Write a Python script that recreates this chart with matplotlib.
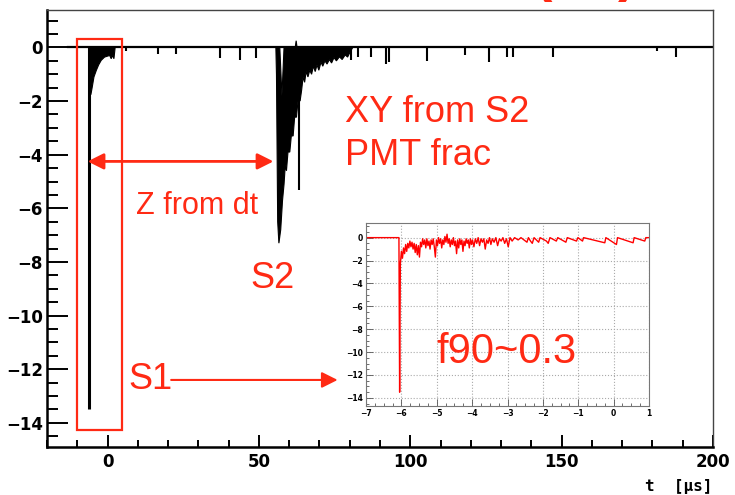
import numpy as np
import matplotlib
matplotlib.use("Agg")
import matplotlib.pyplot as plt
from matplotlib.patches import Rectangle
from matplotlib.ticker import MultipleLocator

plt.rcParams['font.family'] = ['Liberation Sans', 'DejaVu Sans']

RED = '#ff2a14'

# ---- main waveform (t in us) ----
base_t = [-13, 200]
base_v = [0, 0]

s1_t = -6.0
s1_peak = -13.5

s1_tail_t = [-6.2, -5.5, -5.1, -4.5, -3.7, -2.95, -2.1, -1.0, 0.1, 0.7, 1.2, 1.6, 2.1, 2.5]
s1_tail_v = [-1.8, -1.75, -1.5, -1.1, -0.85, -0.65, -0.48, -0.36, -0.32, -0.3, -0.42, -0.3, -0.42, 0.0]

# S2 lower / upper envelope of the filled pulse train
s2_low_t = [55.6, 55.8, 56.2, 56.6, 57.2, 57.8, 58.3, 58.7, 59.1, 59.6, 60.2, 60.7, 61.3,
            61.8, 62.4, 63.0, 63.6, 64.1, 64.6, 65.1, 65.6, 66.2, 66.8, 67.4, 68.0, 68.6,
            69.2, 69.8, 70.5, 71.1, 71.8, 72.5, 73.3, 74.0, 74.8, 75.6, 76.6, 77.5, 78.5,
            79.3, 80.0, 81.0]
s2_low_v = [0.0, -1.0, -6.5, -7.3, -6.8, -5.7, -5.1, -4.4, -4.6, -3.9, -3.9, -3.3, -3.3,
            -2.6, -2.6, -1.9, -2.0, -1.6, -1.1, -1.3, -0.9, -1.1, -0.85, -1.0, -0.7, -0.9,
            -0.65, -0.85, -0.55, -0.7, -0.5, -0.62, -0.45, -0.58, -0.38, -0.5, -0.35, -0.45,
            -0.28, -0.36, -0.2, 0.0]
s2_up_t = [55.6, 56.9, 57.6, 58.3, 62.0, 62.3, 62.6, 81.0]
s2_up_v = [0.0, 0.0, -1.8, 0.0, 0.0, 0.25, 0.0, 0.0]

# isolated single photo-electron pulses
pulse_t = [6.1, 16.8, 22.6, 37.0, 43.6, 49.2, 63.4, 80.3, 82.6, 86.9, 92.0, 93.0, 105.6,
           118.0, 125.9, 131.8, 134.0, 147.0, 181.6, 187.9]
pulse_v = [-0.15, -0.25, -0.25, -0.4, -0.46, -0.4, -5.3, -0.47, -0.35, -0.35, -0.62, -0.55,
           -0.5, -0.28, -0.56, -0.37, -0.37, -0.37, -0.15, -0.37]

x_ticks = [0, 50, 100, 150, 200]
y_ticks = [-14, -12, -10, -8, -6, -4, -2, 0]

# ---- inset: zoom on S1 ----
inset_t = [-7.0, -6.07, -6.05, -6.03, -6.00, -5.97, -5.94, -5.91, -5.88, -5.85, -5.82, -5.79,
           -5.76, -5.73, -5.70, -5.67, -5.64, -5.61, -5.58, -5.55, -5.52, -5.49, -5.46, -5.43,
           -5.40, -5.37, -5.34, -5.31, -5.28, -5.25, -5.22, -5.19, -5.16, -5.13, -5.10, -5.07,
           -5.04, -5.01, -4.98, -4.95, -4.92, -4.89, -4.86, -4.83, -4.80, -4.77, -4.74, -4.71,
           -4.68, -4.65, -4.62, -4.59, -4.56, -4.53, -4.50, -4.47, -4.44, -4.41, -4.38, -4.35,
           -4.32, -4.29, -4.26, -4.23, -4.20, -4.17, -4.14, -4.11, -4.08, -4.05, -4.02, -3.99,
           -3.95, -3.91, -3.87, -3.83, -3.79, -3.75, -3.71, -3.67, -3.63, -3.59, -3.55, -3.51,
           -3.47, -3.43, -3.38, -3.33, -3.28, -3.23, -3.18, -3.13, -3.08, -3.03, -2.98, -2.93,
           -2.87, -2.80, -2.70, -2.62, -2.45, -2.41, -2.35, -2.30, -2.25, -2.12, -2.08, -1.90,
           -1.85, -1.80, -1.62, -1.58, -1.35, -1.31, -1.05, -1.01, -0.88, -0.85, -0.25, -0.22,
           0.08, 0.11, 0.55, 0.58, 0.88, 0.91, 1.0]
inset_v = [0.0, 0.0, -13.5, -2.3, -1.2, -1.8, -0.9, -1.4, -0.6, -1.2, -0.5, -0.9,
           -0.3, -0.8, -0.4, -1.0, -0.5, -1.3, -0.6, -1.5, -0.7, -1.7, -0.4, -0.8,
           -0.1, -0.6, -0.2, -0.9, -0.1, -0.7, -0.3, -1.0, -0.2, -0.6, -0.1, -0.8,
           -1.7, -0.2, -0.7, 0.0, -0.5, -0.1, -0.9, -0.2, -0.6, 0.1, -0.4, 0.3,
           -0.5, -0.1, -0.8, -0.2, -0.6, 0.0, -0.7, -0.3, -1.4, -0.2, -0.9, -0.1,
           -0.6, -0.2, -1.2, -0.3, -0.7, -0.1, -0.5, -0.2, -0.9, -0.1, -0.6, -0.2,
           -0.8, -0.1, -0.5, 0.0, -0.7, -0.1, -0.4, -0.1, -1.0, -0.2, -0.5, 0.0,
           -0.6, -0.1, -0.4, 0.0, -0.7, -0.1, -0.3, 0.0, -0.5, -0.1, -0.8, 0.0,
           -0.3, 0.0, -0.2, 0.0, -0.4, 0.0, -0.3, -0.5, 0.0, -0.4, 0.0, -0.3,
           -0.5, 0.0, -0.3, 0.0, -0.4, 0.0, -0.3, 0.0, -0.3, 0.0, -0.45, 0.0,
           -0.6, 0.0, -0.45, 0.0, -0.3, 0.0, 0.0]
inset_x_ticks = [-7, -6, -5, -4, -3, -2, -1, 0, 1]
inset_y_ticks = [-14, -12, -10, -8, -6, -4, -2, 0]


def fmt(v):
    return str(v).replace('-', '\u2212')


fig = plt.figure(figsize=(7.35, 4.95), dpi=100)
ax = fig.add_axes([0.064, 0.097, 0.906, 0.883])

ax.plot(base_t, base_v, color='black', lw=1.6)
ax.vlines(s1_t, s1_peak, 0, color='black', lw=2.2)
ax.fill(np.r_[s1_tail_t[0], s1_tail_t], np.r_[0.0, s1_tail_v], color='black', lw=0.8)
ax.fill(np.r_[s2_low_t, s2_up_t[::-1]], np.r_[s2_low_v, s2_up_v[::-1]],
        facecolor='black', edgecolor='black', lw=0.8)
ax.vlines(pulse_t, pulse_v, 0, color='black', lw=1.5)

ax.set_xlim(-20, 200)
ax.set_ylim(-14.9, 1.4)
ax.set_xticks(x_ticks)
ax.set_xticklabels([fmt(v) for v in x_ticks], fontsize=12, fontweight='bold', family='DejaVu Sans')
ax.set_yticks(y_ticks)
ax.set_yticklabels([fmt(v) for v in y_ticks], fontsize=12, fontweight='bold', family='DejaVu Sans')
ax.xaxis.set_minor_locator(MultipleLocator(10))
ax.yaxis.set_minor_locator(MultipleLocator(0.5))
ax.tick_params(which='both', direction='in', top=False, right=False, width=1.4)
ax.tick_params(axis='y', which='major', length=15, pad=3)
ax.tick_params(axis='y', which='minor', length=8)
ax.tick_params(axis='x', which='major', length=8.6, pad=4.5)
ax.tick_params(axis='x', which='minor', length=5)
for side in ['left', 'bottom']:
    ax.spines[side].set_linewidth(1.8)
for side in ['top', 'right']:
    ax.spines[side].set_linewidth(1.0)
    ax.spines[side].set_color('#444444')

fig.text(0.969, 1 - 486 / 495, 't  [\u03bcs]', family='DejaVu Sans Mono', fontweight='bold',
         fontsize=11.5, ha='right', va='center')

# annotations
ax.add_patch(Rectangle((-10, -14.26), 14.6, 14.59, fill=False, edgecolor=RED, lw=1.6,
                       clip_on=False, zorder=5))
ax.annotate('', xy=(54.8, -4.25), xytext=(-6.6, -4.25),
            arrowprops=dict(arrowstyle='<|-|>', color=RED, lw=2, mutation_scale=24,
                            shrinkA=0, shrinkB=0))
ax.text(29.5, -5.9, 'Z from dt', color=RED, fontsize=22, ha='center', va='center')
ax.text(78.3, -2.79, 'XY from S2', color=RED, fontsize=26, ha='left', va='baseline')
ax.text(78.3, -4.39, 'PMT frac', color=RED, fontsize=26, ha='left', va='baseline')
ax.text(54.4, -8.6, 'S2', color=RED, fontsize=26, ha='center', va='center')
ax.text(14.1, -12.4, 'S1', color=RED, fontsize=26, ha='center', va='center')
ax.annotate('', xy=(76, -12.4), xytext=(21, -12.4),
            arrowprops=dict(arrowstyle='-|>', color=RED, lw=1.5, mutation_scale=24,
                            shrinkA=0, shrinkB=0))

fig.text(543 / 735, 1.02, '(', color=RED, fontsize=40, fontweight='bold', ha='center', va='baseline')
fig.text(627 / 735, 1.02, ')', color=RED, fontsize=40, fontweight='bold', ha='center', va='baseline')

# inset
axin = fig.add_axes([0.498, 0.180, 0.385, 0.370])
axin.plot(inset_t, inset_v, color='red', lw=1.0)
axin.set_xlim(-7, 1)
axin.set_ylim(-14.7, 1.3)
axin.set_xticks(inset_x_ticks)
axin.set_xticklabels([fmt(v) for v in inset_x_ticks], fontsize=5.5, fontweight='bold', family='DejaVu Sans')
axin.set_yticks(inset_y_ticks)
axin.set_yticklabels([fmt(v) for v in inset_y_ticks], fontsize=5.5, fontweight='bold', family='DejaVu Sans')
axin.yaxis.set_minor_locator(MultipleLocator(0.5))
axin.xaxis.set_minor_locator(MultipleLocator(0.25))
axin.tick_params(which='both', direction='in', top=False, right=False, width=0.6,
                 colors='#555555', labelcolor='black', pad=2)
axin.tick_params(which='major', length=5)
axin.tick_params(which='minor', length=2.5)
axin.grid(True, which='major', linestyle=':', color='#aaaaaa', lw=0.8)
for s in axin.spines.values():
    s.set_color('#777777')
    s.set_linewidth(0.8)
axin.text(-5.02, -10.94, 'f90~0.3', color=RED, fontsize=30, ha='left', va='baseline')

fig.savefig('out.png', dpi=100)
